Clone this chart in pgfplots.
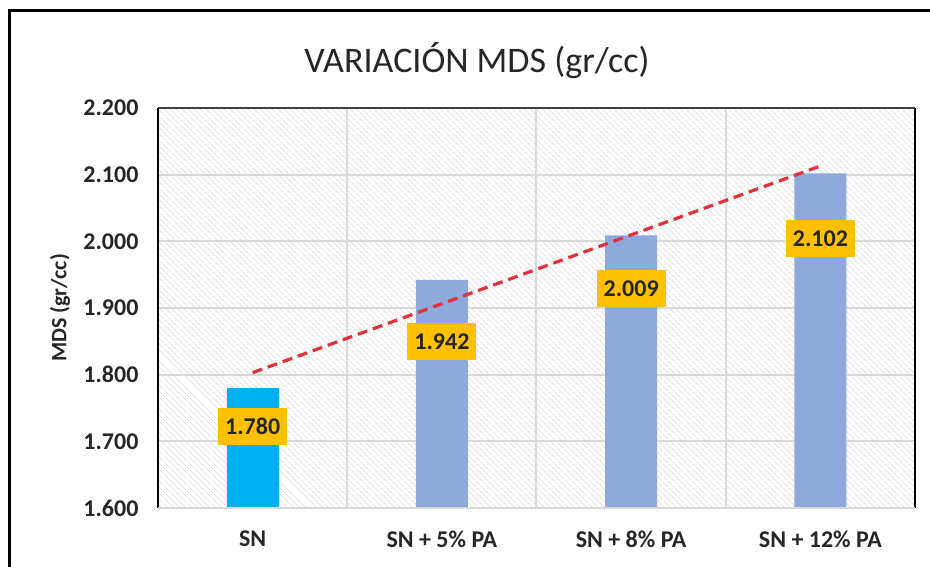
\documentclass[border=0pt]{standalone}
\usepackage{pgfplots}
\pgfplotsset{compat=1.18}
\usetikzlibrary{patterns.meta}
\usepackage{fontspec}
\setmainfont{Carlito}
\definecolor{barcyan}{HTML}{00B0F0}
\definecolor{barblue}{HTML}{8EA9DB}
\definecolor{lblbox}{HTML}{FFC000}
\definecolor{trendred}{HTML}{E0323C}
\definecolor{gridgray}{HTML}{D9D9D9}
\definecolor{hatch}{HTML}{DCDCDC}
\definecolor{txt}{HTML}{262626}
\begin{document}
\begin{tikzpicture}[x=1pt,y=1pt]
\path[use as bounding box] (-158,-59) rectangle (772,508);
\begin{axis}[
  at={(0,0)}, anchor=south west,
  scale only axis, width=757pt, height=400pt,
  xmin=-0.5, xmax=3.5, ymin=1.6, ymax=2.2,
  xtick={0,1,2,3},
  xticklabels={SN, SN + 5\% PA, SN + 8\% PA, SN + 12\% PA},
  minor xtick={0.5,1.5,2.5},
  ytick={1.6,1.7,1.8,1.9,2.0,2.1,2.2},
  xminorgrids=true, ymajorgrids=true,
  grid style={gridgray, line width=2pt},
  minor grid style={gridgray, line width=2pt},
  major tick length=0pt, minor tick length=0pt,
  axis line style={draw=none},
  axis background/.style={pattern={Lines[angle=-45,distance=4pt,line width=0.8pt]}, pattern color=hatch},
  tick label style={font=\fontsize{24}{24}\selectfont\bfseries, text=txt},
  /pgf/number format/assume math mode=true,
  yticklabel style={/pgf/number format/fixed, /pgf/number format/fixed zerofill, /pgf/number format/precision=3, xshift=-16pt},
  xticklabel style={yshift=-19pt},
  ylabel={MDS (gr/cc)},
  every axis y label/.style={at={(rel axis cs:0,0.5)}, xshift=-98pt, rotate=90, anchor=center,
    font=\fontsize{22}{22}\selectfont\bfseries, text=txt},
  clip=false,
]
\addplot[ybar, bar width=52pt, bar shift=0pt, fill=barcyan, draw=none] coordinates {(0,1.780)};
\addplot[ybar, bar width=52pt, bar shift=0pt, fill=barblue, draw=none] coordinates {(1,1.942) (2,2.009) (3,2.102)};
\addplot[trendred, line width=3.2pt, dash pattern=on 10pt off 6pt] coordinates {(0,1.803) (3,2.113)};
\addplot[draw=none, nodes near coords, point meta=explicit symbolic,
  every node near coord/.append style={anchor=center, fill=lblbox, text=txt,
    font=\fontsize{24}{24}\selectfont\bfseries, inner xsep=7pt, minimum height=37pt}]
  coordinates {(0,1.722)[1.780] (1,1.849)[1.942] (2,1.929)[2.009] (3,2.004)[2.102]};
\draw[black, line width=2pt] (rel axis cs:0,0) -- (rel axis cs:0,1);
\draw[black, line width=2pt] (rel axis cs:1,0) -- (rel axis cs:1,1);
\draw[black!75, line width=2pt] (rel axis cs:0,1) -- (rel axis cs:1,1);
\draw[gridgray, line width=2pt] (rel axis cs:0,0) -- (rel axis cs:1,0);
\end{axis}
\node[font=\fontsize{36}{36}\selectfont, text=txt] at (319,447) {VARIACIÓN MDS (gr/cc)};
\draw[black, line width=3pt] (-148.5,-60) -- (-148.5,497) -- (775,497);
\end{tikzpicture}
\end{document}
